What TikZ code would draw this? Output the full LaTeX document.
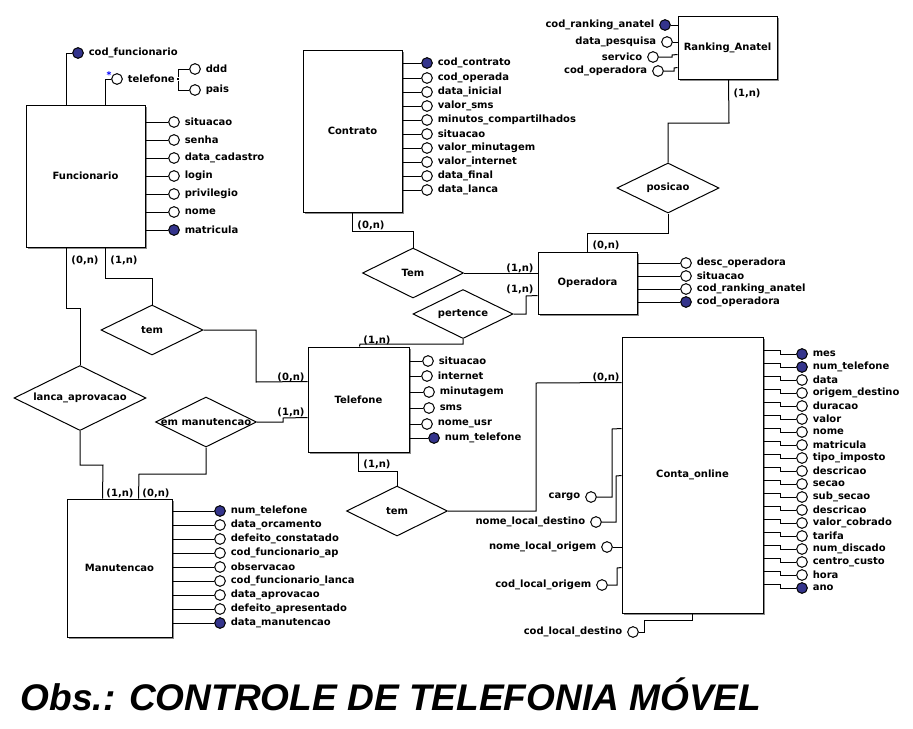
\documentclass[tikz,border=0pt]{standalone}
\usepackage{fontspec}
\setmainfont{DejaVu Sans}
\newfontfamily\titlefont{Liberation Sans}
\usetikzlibrary{calc,shapes.geometric,shadows}
\definecolor{keyblue}{RGB}{52,52,140}

\begin{document}
\begin{tikzpicture}[x=0.75pt,y=-0.75pt,line width=0.75pt,
    font=\fontsize{7.5}{9}\selectfont\bfseries]
  \tikzset{
    entity/.style 2 args={draw,fill=white,inner sep=0,
      minimum width=#1*0.75pt,minimum height=#2*0.75pt,
      drop shadow={shadow xshift=1.5pt,shadow yshift=-1.5pt,fill=black!45,opacity=1}},
    relation/.style n args={3}{diamond,draw,fill=white,inner sep=0,
      minimum width=#1*0.75pt,minimum height=#2*0.75pt,label=center:#3},
    attr/.style={circle,draw,fill=#1,inner sep=0,minimum size=8pt},
    attr/.default=white,
    card/.style={inner sep=0}
  }
  \useasboundingbox[fill=white] (0,0) rectangle (913,728);

  % entidades
  \node[entity={119}{142}] (func) at (85.5,176) {Funcionario};
  \node[entity={99}{162}] (contr) at (352.5,131) {Contrato};
  \node[entity={99}{63}] (rank) at (727.5,47.5) {Ranking\_Anatel};
  \node[entity={99}{62}] (oper) at (587.5,283) {Operadora};
  \node[entity={101}{105}] (tel) at (358.5,399.5) {Telefone};
  \node[entity={141}{276}] (conta) at (692.5,475) {Conta\_online};
  \node[entity={105}{138}] (manut) at (119.5,568) {Manutencao};

  % relacionamentos
  \node[relation={102}{50}{tem}] (tem1) at (152,330) {};
  \node[relation={132}{65}{lanca\_aprovacao}] (lanca) at (80,398) {};
  \node[relation={101}{50}{em manutencao}] (emman) at (206,422) {};
  \node[relation={101}{50}{Tem}] (temc) at (413,273) {};
  \node[relation={100}{49}{pertence}] (pert) at (463,314) {};
  \node[relation={102}{50}{posicao}] (posic) at (668,188) {};
  \node[relation={101}{50}{tem}] (tem2) at (397,511) {};

  \draw ($(func.south west)+(41,0)$) |- (80,308) -- (lanca.north);
  \draw ($(func.south west)+(80,0)$) |- (152,278) -- (tem1.north);
  \draw (tem1.east) -| (256,382) -- ($(tel.north west)+(0,35)$);
  \draw (lanca.south) |- (103,465) -- ($(manut.north west)+(36,0)$);
  \draw (emman.south) |- (139,474) -- ($(manut.north west)+(72,0)$);
  \draw (emman.east) -| (283,418) -- ($(tel.north west)+(0,71)$);
  \draw ($(contr.south west)+(50,0)$) |- (413,231) -- (temc.north);
  \draw (temc.east) -- (temc.east -| oper.west);
  \draw (pert.east) -| (526,296) -- ($(oper.north west)+(0,44)$);
  \draw (pert.south) |- (360,344) -- ($(tel.north west)+(52,0)$);
  \draw ($(oper.north west)+(50,0)$) |- (668,233) -- (posic.south);
  \draw (posic.north) |- (729,123) -- ($(rank.south west)+(51,0)$);
  \draw ($(tel.south west)+(51,0)$) |- (397,471) -- (tem2.north);
  \draw (tem2.east) -| (536,383) -- ($(conta.north west)+(0,46)$);

  % cardinalidades
  \node[card] (c1) at (85,260) {(0,n)};
  \node[card] (c2) at (124,260) {(1,n)};
  \node[card] (c3) at (291,377) {(0,n)};
  \node[card] (c4) at (291,412) {(1,n)};
  \node[card] (c5) at (120,493) {(1,n)};
  \node[card] (c6) at (156,493) {(0,n)};
  \node[card] (c7) at (371,225) {(0,n)};
  \node[card] (c8) at (520,268) {(1,n)};
  \node[card] (c9) at (520,289) {(1,n)};
  \node[card] (c10) at (606,245) {(0,n)};
  \node[card] (c11) at (747,93) {(1,n)};
  \node[card] (c12) at (377,340) {(1,n)};
  \node[card] (c13) at (377,464) {(1,n)};
  \node[card] (c14) at (606,377) {(0,n)};

  % atributos Funcionario
  \node[attr=keyblue,label=right:cod\_funcionario] (codf) at (78,53) {};
  \draw ($(func.north west)+(41,0)$) |- (codf);
  \node[attr,label=right:telefone] (telf) at (117,79) {};
  \draw ($(func.north west)+(80,0)$) |- (telf);
  \node[text=blue,inner sep=0,font=\fontsize{7}{7}\selectfont\bfseries] (ast) at (109,75) {*};
  \node[fill,inner sep=0,minimum size=2pt] (tdot) at (178,79) {};
  \node[attr,label=right:ddd] (ddd) at (195,69) {};
  \node[attr,label=right:pais] (pais) at (195,90) {};
  \draw (tdot) |- (ddd);
  \draw (tdot) |- (pais);
  \foreach \y/\t/\c in {122/situacao/white,140/senha/white,158/data\_cadastro/white,
      176/login/white,194/privilegio/white,212/nome/white,230/matricula/keyblue}{
    \node[attr=\c,label=right:\t] (fu\y) at (174,\y) {};
    \draw (func.east |- fu\y) -- (fu\y);
  }

  % atributos Contrato
  \foreach \y/\t/\c in {63/cod\_contrato/keyblue,78/cod\_operada/white,92/data\_inicial/white,
      106/valor\_sms/white,120/minutos\_compartilhados/white,134/situacao/white,
      148/valor\_minutagem/white,162/valor\_internet/white,176/data\_final/white,
      190/data\_lanca/white}{
    \node[attr=\c,label=right:\t] (ct\y) at (427,\y) {};
    \draw (contr.east |- ct\y) -- (ct\y);
  }

  % atributos Ranking_Anatel
  \node[attr=keyblue,label=left:cod\_ranking\_anatel] (rk1) at (665,25) {};
  \node[attr,label=left:data\_pesquisa] (rk2) at (667,42) {};
  \node[attr,label=left:servico] (rk3) at (653,57) {};
  \node[attr,label=left:cod\_operadora] (rk4) at (658,71) {};
  \draw (rk1) -- (rk1 -| rank.west);
  \draw (rk2) -- (rk2 -| rank.west);
  \draw (rk3) -| (672,55) -- ($(rank.north west)+(0,39)$);
  \draw (rk4) -| (674,68) -- ($(rank.north west)+(0,52)$);

  % atributos Operadora
  \foreach \y/\t/\c in {263/desc\_operadora/white,276/situacao/white,
      289/cod\_ranking\_anatel/white,302/cod\_operadora/keyblue}{
    \node[attr=\c,label=right:\t] (op\y) at (686,\y) {};
    \draw (oper.east |- op\y) -- (op\y);
  }

  % atributos Telefone
  \foreach \x/\y/\t/\c in {428/361/situacao/white,427/376/internet/white,
      429/392/minutagem/white,429/408/sms/white,427/424/nome\_usr/white,
      434/438/num\_telefone/keyblue}{
    \node[attr=\c,label=right:\t] (te\y) at (\x,\y) {};
    \draw (tel.east |- te\y) -- (te\y);
  }

  % atributos Manutencao
  \foreach \y/\t/\c in {511/num\_telefone/keyblue,525/data\_orcamento/white,
      539/defeito\_constatado/white,553/cod\_funcionario\_ap/white,567/observacao/white,
      581/cod\_funcionario\_lanca/white,595/data\_aprovacao/white,
      609/defeito\_apresentado/white,623/data\_manutencao/keyblue}{
    \node[attr=\c,label=right:\t] (ma\y) at (220,\y) {};
    \draw (manut.east |- ma\y) -- (ma\y);
  }

  % atributos Conta_online
  \foreach \t/\c [count=\k from 0] in {mes/keyblue,num\_telefone/keyblue,data/white,
      origem\_destino/white,duracao/white,valor/white,nome/white,matricula/white,
      tipo\_imposto/white,descricao/white,secao/white,sub\_secao/white,descricao/white,
      valor\_cobrado/white,tarifa/white,num\_discado/white,centro\_custo/white,
      hora/white,ano/keyblue}{
    \node[attr=\c,label=right:\t] (co\k) at (802,{354+13*\k}) {};
    \coordinate (cs\k) at (780,{350+13*\k});
    \draw (co\k) -| (cs\k) -- (cs\k -| conta.east);
  }
  \node[attr,label=left:cargo] (cargo) at (591,497) {};
  \node[attr,label=left:nome\_local\_destino] (nld) at (596,522) {};
  \node[attr,label=left:nome\_local\_origem] (nlo) at (607,547) {};
  \node[attr,label=left:cod\_local\_origem] (clo) at (602,585) {};
  \node[attr,label=left:cod\_local\_destino] (cld) at (633,632) {};
  \draw (cargo) -| (612,429) -- ($(conta.north west)+(0,92)$);
  \draw (nld) -| (616,476) -- ($(conta.north west)+(0,139)$);
  \draw (nlo) -- (nlo -| conta.west);
  \draw (clo) -| (617,568) -- ($(conta.north west)+(0,231)$);
  \draw (cld) -| (644,620) -| ($(conta.south west)+(71,0)$);

  \node (title) at (391,694) {\titlefont\fontsize{27.8}{30}\selectfont\bfseries\itshape
    Obs.: CONTROLE DE TELEFONIA MÓVEL};
\end{tikzpicture}
\end{document}
